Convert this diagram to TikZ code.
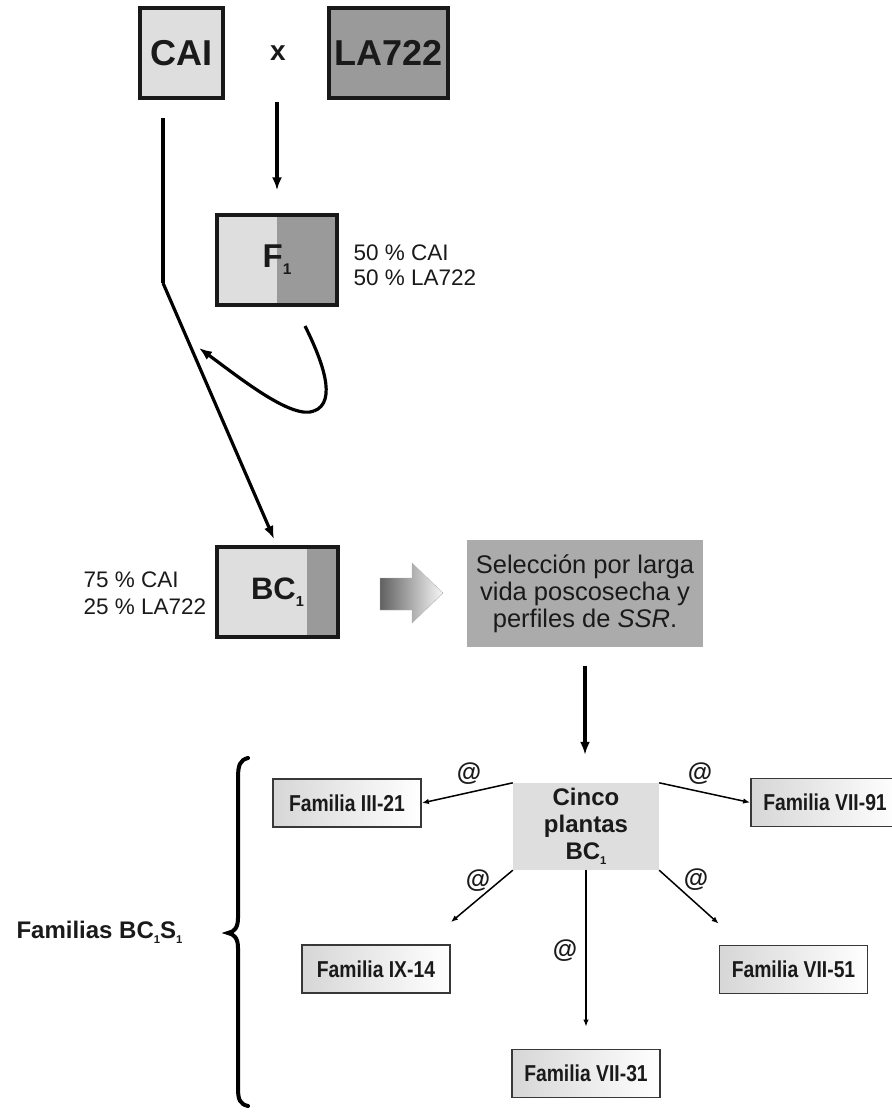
\documentclass[tikz,border=0pt]{standalone}
\usepackage{fontspec}
\setmainfont{Liberation Sans}
\usetikzlibrary{arrows.meta,calc,shadings}
\newcommand\lsub[1]{\raisebox{-0.22em}{\scalebox{0.47}{#1}}}
\newcommand\famtxt[1]{\scalebox{0.84}[1]{#1}}
\definecolor{lightg}{HTML}{DEDEDE}
\definecolor{darkg}{HTML}{9A9A9A}
\definecolor{selg}{HTML}{ABABAB}
\definecolor{txt}{HTML}{1A1A1A}
\tikzset{
  bigbox/.style={draw=black!90, line width=3.4pt, inner sep=0pt, text=txt, font=\bfseries\fontsize{36}{40}\selectfont},
  mainarr/.style={line width=3.2pt, -{Latex[length=13pt,width=10pt]}},
  plainline/.style={line width=3.2pt},
  famarr/.style={line width=1.5pt, -{Latex[length=7pt,width=5.5pt]}},
  fambox/.style={draw=black!78, line width=1.8pt, left color=black!16, right color=white, minimum width=148pt, minimum height=48pt, inner sep=0pt, font=\bfseries\fontsize{23}{24}\selectfont, text=txt},
  atlabel/.style={font=\bfseries\fontsize{25}{28}\selectfont, text=txt},
  pctlabel/.style={anchor=west, align=left, text=txt}
}
\begin{document}
\begin{tikzpicture}[x=1pt,y=-1pt]
\useasboundingbox (0,0) rectangle (892,1112);

% parents
\node[bigbox, fill=lightg, minimum width=83pt, minimum height=90pt] (cai) at (181.5,53) {CAI};
\node[font=\bfseries\fontsize{28}{30}\selectfont, text=txt] (cross) at (278,53) {x};
\node[bigbox, fill=darkg, minimum width=119pt, minimum height=90pt] (la) at (388.5,53) {LA722};

% F1
\node[bigbox, fill=lightg, minimum width=120pt, minimum height=90pt,
  path picture={\fill[darkg] (path picture bounding box.north) rectangle (path picture bounding box.south east);},
  font=\bfseries\fontsize{33}{36}\selectfont] (F1) at (277,260) {F\lsub{1}};
\node[pctlabel, font=\fontsize{22.5}{25}\selectfont] (f1lab) at (350,265.5) {50 \% CAI\\50 \% LA722};

% BC1
\node[bigbox, fill=lightg, minimum width=121pt, minimum height=90pt,
  path picture={\fill[darkg] ($(path picture bounding box.north west)!0.74!(path picture bounding box.north east)$) rectangle (path picture bounding box.south east);},
  font=\bfseries\fontsize{31}{34}\selectfont] (BC1) at (277.5,592) {BC\lsub{1}};
\node[pctlabel, font=\fontsize{22.5}{27}\selectfont] (bclab) at (80,593.5) {75 \% CAI\\25 \% LA722};

% coordinates for connectors
\coordinate (crossOut) at (277,102);
\coordinate (caiOut) at (163,118);
\coordinate (bend) at (163,283);
\coordinate (bcIn) at (274,539);
\coordinate (f1Out) at (305,326);
\coordinate (loopBottom) at (314,411);
\coordinate (loopTip) at (199,348);

\draw[mainarr] (crossOut) -- ([yshift=23pt]F1.north);
\draw[plainline] (caiOut) -- (bend);
\draw[mainarr] (bend) -- (bcIn);
\draw[plainline] (f1Out) .. controls (322,360) and (338,402) .. (loopBottom);
\draw[mainarr] (loopBottom) .. controls (292,420) and (240,378) .. (loopTip);

% block arrow
\shade[left color=black!62, right color=black!3, draw=black!30, line width=0.4pt]
  (380,578) -- (412,578) -- (412,563) -- (443,593) -- (412,623) -- (412,610) -- (380,610) -- cycle;

% selection box
\node[fill=selg, minimum width=236pt, minimum height=107pt, inner sep=0pt, align=center,
  font=\fontsize{25.5}{27}\selectfont, text=txt] (sel) at (585,593.5)
  {Selección por larga\\vida poscosecha y\\perfiles de \textit{SSR}.};

% five plants
\node[fill=lightg, minimum width=146pt, minimum height=87pt, inner sep=0pt, align=center,
  font=\bfseries\fontsize{24}{27}\selectfont, text=txt] (cinco) at (586,826.5)
  {Cinco\\plantas\\BC\lsub{1}};

\draw[mainarr] ([yshift=-19pt]sel.south) -- ([yshift=28pt]sel.south |- cinco.north);

% families
\node[fambox] (f321) at (347,803) {\famtxt{Familia III-21}};
\node[fambox] (f791) at (825,802.5) {\famtxt{Familia VII-91}};
\node[fambox] (f914) at (376,969) {\famtxt{Familia IX-14}};
\node[fambox] (f751) at (793.5,969.5) {\famtxt{Familia VII-51}};
\node[fambox] (f731) at (586,1073.5) {\famtxt{Familia VII-31}};

\draw[famarr] (cinco.north west) -- (f321.east);
\draw[famarr] (cinco.north east) -- (f791.west);
\draw[famarr] (cinco.south west) -- ([yshift=22pt]f914.north east);
\draw[famarr] (cinco.south east) -- ([yshift=21pt]f751.north west);
\draw[famarr] (cinco.south) -- ([yshift=22pt]f731.north);

\node[atlabel] (at1) at (469,774) {@};
\node[atlabel] (at2) at (700,774) {@};
\node[atlabel] (at3) at (478,881) {@};
\node[atlabel] (at4) at (696,880) {@};
\node[atlabel] (at5) at (565,951) {@};

% brace and label
\draw[line width=4pt, line cap=round]
  (248,758) .. controls (240,760) and (238,765) .. (238,778) -- (238,918)
  .. controls (238,928) and (234,932) .. (228,933)
  .. controls (234,934) and (238,938) .. (238,948) -- (238,1088)
  .. controls (238,1100) and (240,1104) .. (248,1106);
\node[anchor=west, font=\bfseries\fontsize{24}{28}\selectfont, text=txt] (famlab) at (13,932) {Familias BC\lsub{1}S\lsub{1}};
\end{tikzpicture}
\end{document}
